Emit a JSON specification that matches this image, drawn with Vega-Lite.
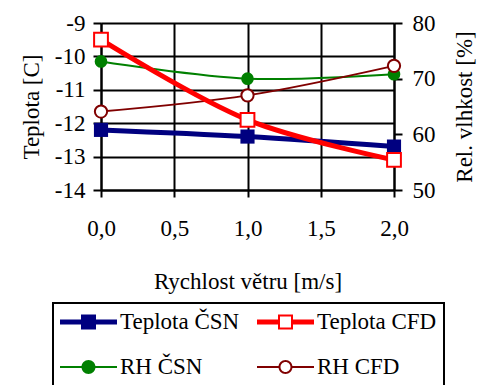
{
  "$schema": "https://vega.github.io/schema/vega-lite/v6.json",
  "width": 293,
  "height": 167,
  "autosize": "none",
  "padding": {"left": 101, "top": 23, "right": 89, "bottom": 195},
  "background": "white",
  "config": {
    "font": "Liberation Serif, serif",
    "view": {"stroke": null},
    "axis": {
      "labelFont": "Liberation Serif, serif",
      "titleFont": "Liberation Serif, serif",
      "labelFontSize": 23,
      "titleFontSize": 23,
      "titleFontWeight": "normal",
      "labelColor": "black",
      "titleColor": "black",
      "domainColor": "black",
      "domainWidth": 2,
      "tickColor": "black",
      "tickWidth": 2,
      "gridColor": "black",
      "gridWidth": 2,
      "gridOpacity": 1
    }
  },
  "data": {
    "values": [
      {"series": "Teplota ČSN", "group": "T", "v": 0, "value": -12.2},
      {"series": "Teplota ČSN", "group": "T", "v": 1, "value": -12.4},
      {"series": "Teplota ČSN", "group": "T", "v": 2, "value": -12.7},
      {"series": "Teplota CFD", "group": "T", "v": 0, "value": -9.5},
      {"series": "Teplota CFD", "group": "T", "v": 1, "value": -11.9},
      {"series": "Teplota CFD", "group": "T", "v": 2, "value": -13.1},
      {"series": "RH ČSN", "group": "RH", "v": 0, "value": 73.1},
      {"series": "RH ČSN", "group": "RH", "v": 1, "value": 70.0},
      {"series": "RH ČSN", "group": "RH", "v": 2, "value": 70.8},
      {"series": "RH CFD", "group": "RH", "v": 0, "value": 64.1},
      {"series": "RH CFD", "group": "RH", "v": 1, "value": 67.0},
      {"series": "RH CFD", "group": "RH", "v": 2, "value": 72.3}
    ]
  },
  "encoding": {
    "x": {
      "field": "v",
      "type": "quantitative",
      "scale": {"domain": [0, 2], "nice": false},
      "axis": {
        "values": [0, 0.5, 1, 1.5, 2],
        "labelExpr": "replace(format(datum.value, '.1f'), '.', ',')",
        "labelFlush": false,
        "labelOverlap": false,
        "title": "Rychlost větru [m/s]",
        "grid": true,
        "tickSize": 7,
        "labelPadding": 20,
        "titlePadding": 30
      }
    },
    "color": {
      "field": "series",
      "type": "nominal",
      "scale": {
        "domain": ["Teplota ČSN", "Teplota CFD", "RH ČSN", "RH CFD"],
        "range": ["#000080", "#ff0000", "#008000", "#800000"]
      },
      "legend": {
        "orient": "none",
        "legendX": -48,
        "legendY": 280,
        "columns": 2,
        "direction": "horizontal",
        "title": null,
        "strokeColor": "black",
        "padding": 7,
        "symbolSize": 3249,
        "symbolStrokeWidth": 0,
        "symbolOffset": 0,
        "labelOffset": 3,
        "columnPadding": 17,
        "rowPadding": 21,
        "clipHeight": 24,
        "labelFont": "Liberation Serif, serif",
        "labelFontSize": 23,
        "labelColor": "black",
        "labelLimit": 300,
        "encode": {
          "legend": {"update": {"strokeWidth": {"value": 2}, "stroke": {"value": "black"}}},
          "symbols": {
            "update": {
              "shape": {"signal": "datum.value == 'Teplota ČSN' ? 'M-1,-0.088H1V0.088H-1Z M-0.263,-0.263H0.263V0.263H-0.263Z' : datum.value == 'Teplota CFD' ? 'M-1,-0.088H-0.263V0.088H-1Z M0.263,-0.088H1V0.088H0.263Z M-0.263,-0.263H0.263V0.263H-0.263Z M-0.193,-0.193V0.193H0.193V-0.193Z' : datum.value == 'RH ČSN' ? 'M-1,-0.035H1V0.035H-1Z M-0.245,0A0.245,0.245 0 1,1 0.245,0A0.245,0.245 0 1,1 -0.245,0Z' : 'M-1,-0.035H-0.21V0.035H-1Z M0.21,-0.035H1V0.035H0.21Z M-0.245,0A0.245,0.245 0 1,1 0.245,0A0.245,0.245 0 1,1 -0.245,0Z M-0.175,0A0.175,0.175 0 1,0 0.175,0A0.175,0.175 0 1,0 -0.175,0Z'"},
              "fill": {"signal": "datum.value == 'Teplota ČSN' ? '#000080' : datum.value == 'Teplota CFD' ? '#ff0000' : datum.value == 'RH ČSN' ? '#008000' : '#800000'"},
              "strokeWidth": {"value": 0},
              "opacity": {"value": 1},
              "fillOpacity": {"value": 1}
            }
          }
        }
      }
    }
  },
  "layer": [
    {
      "transform": [{"filter": "datum.group == 'RH'"}],
      "encoding": {
        "y": {
          "field": "value",
          "type": "quantitative",
          "scale": {"domain": [50, 80], "nice": false, "zero": false},
          "axis": {
            "orient": "right",
            "values": [50, 60, 70, 80],
            "grid": false,
            "title": "Rel. vlhkost [%]",
            "titleAngle": 270,
            "tickSize": 8,
            "labelPadding": 10,
            "titlePadding": 41
          }
        }
      },
      "layer": [
        {"mark": {"type": "line", "strokeWidth": 2, "interpolate": "catmull-rom"}},
        {
          "transform": [{"filter": "datum.series == 'RH ČSN'"}],
          "mark": {"type": "point", "shape": "circle", "filled": true, "size": 160, "opacity": 1}
        },
        {
          "transform": [{"filter": "datum.series == 'RH CFD'"}],
          "mark": {"type": "point", "shape": "circle", "filled": false, "fill": "white", "strokeWidth": 2, "size": 150, "opacity": 1}
        }
      ]
    },
    {
      "transform": [{"filter": "datum.group == 'T'"}],
      "encoding": {
        "y": {
          "field": "value",
          "type": "quantitative",
          "scale": {"domain": [-14, -9], "nice": false, "zero": false},
          "axis": {
            "orient": "left",
            "values": [-14, -13, -12, -11, -10, -9],
            "labelExpr": "replace(format(datum.value, 'd'), '−', '-')",
            "grid": true,
            "title": "Teplota [C]",
            "tickSize": 8,
            "labelPadding": 8,
            "titlePadding": 11
          }
        }
      },
      "layer": [
        {"mark": {"type": "line", "strokeWidth": 5, "interpolate": "catmull-rom"}},
        {
          "transform": [{"filter": "datum.series == 'Teplota ČSN'"}],
          "mark": {"type": "point", "shape": "square", "filled": true, "size": 200, "opacity": 1}
        },
        {
          "transform": [{"filter": "datum.series == 'Teplota CFD'"}],
          "mark": {"type": "point", "shape": "square", "filled": false, "fill": "white", "strokeWidth": 2, "size": 190, "opacity": 1}
        }
      ]
    }
  ],
  "resolve": {"scale": {"y": "independent"}}
}
